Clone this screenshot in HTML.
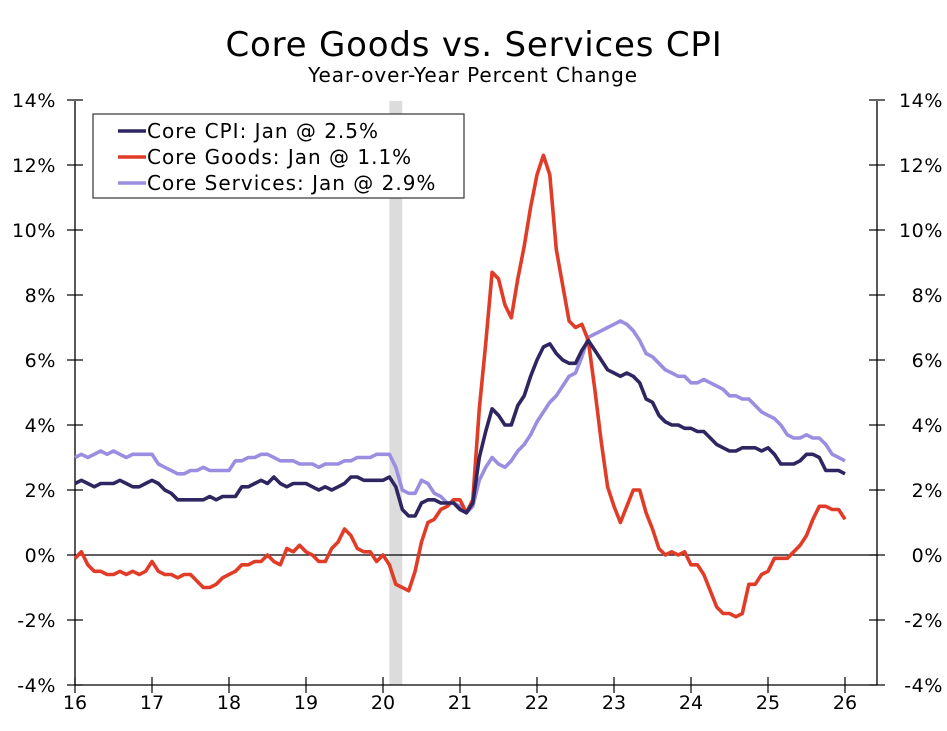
<!DOCTYPE html>
<html><head><meta charset="utf-8"><style>
body{margin:0;background:#fff;font-family:"DejaVu Sans","Liberation Sans",sans-serif}
svg text{font-family:"DejaVu Sans","Liberation Sans",sans-serif;fill:#000}
</style></head><body>
<svg id="chart" width="947" height="727" viewBox="0 0 947 727" xmlns="http://www.w3.org/2000/svg">
<text x="474" y="56" font-size="34" letter-spacing="0.8" text-anchor="middle">Core Goods vs. Services CPI</text>
<text x="473" y="82" font-size="20" letter-spacing="0.9" text-anchor="middle">Year-over-Year Percent Change</text>
<g id="g"></g>
</svg>
<script>
const years=["16","17","18","19","20","21","22","23","24","25","26"];
const yTicks=[-4,-2,0,2,4,6,8,10,12,14];
const coreCPI=[2.2,2.3,2.2,2.1,2.2,2.2,2.2,2.3,2.2,2.1,2.1,2.2,
2.3,2.2,2.0,1.9,1.7,1.7,1.7,1.7,1.7,1.8,1.7,1.8,
1.8,1.8,2.1,2.1,2.2,2.3,2.2,2.4,2.2,2.1,2.2,2.2,
2.2,2.1,2.0,2.1,2.0,2.1,2.2,2.4,2.4,2.3,2.3,2.3,
2.3,2.4,2.1,1.4,1.2,1.2,1.6,1.7,1.7,1.6,1.6,1.6,
1.4,1.3,1.6,3.0,3.8,4.5,4.3,4.0,4.0,4.6,4.9,5.5,
6.0,6.4,6.5,6.2,6.0,5.9,5.9,6.3,6.6,6.3,6.0,5.7,
5.6,5.5,5.6,5.5,5.3,4.8,4.7,4.3,4.1,4.0,4.0,3.9,
3.9,3.8,3.8,3.6,3.4,3.3,3.2,3.2,3.3,3.3,3.3,3.2,
3.3,3.1,2.8,2.8,2.8,2.9,3.1,3.1,3.0,2.6,2.6,2.6,2.5];
const coreGoods=[-0.1,0.1,-0.3,-0.5,-0.5,-0.6,-0.6,-0.5,-0.6,-0.5,-0.6,-0.5,
-0.2,-0.5,-0.6,-0.6,-0.7,-0.6,-0.6,-0.8,-1.0,-1.0,-0.9,-0.7,
-0.6,-0.5,-0.3,-0.3,-0.2,-0.2,0.0,-0.2,-0.3,0.2,0.1,0.3,
0.1,0.0,-0.2,-0.2,0.2,0.4,0.8,0.6,0.2,0.1,0.1,-0.2,
0.0,-0.3,-0.9,-1.0,-1.1,-0.5,0.4,1.0,1.1,1.4,1.5,1.7,
1.7,1.3,1.7,4.5,6.5,8.7,8.5,7.7,7.3,8.5,9.5,10.7,
11.7,12.3,11.7,9.4,8.3,7.2,7.0,7.1,6.6,5.1,3.5,2.1,
1.5,1.0,1.5,2.0,2.0,1.3,0.8,0.2,0.0,0.1,0.0,0.1,
-0.3,-0.3,-0.6,-1.1,-1.6,-1.8,-1.8,-1.9,-1.8,-0.9,-0.9,-0.6,
-0.5,-0.1,-0.1,-0.1,0.1,0.3,0.6,1.1,1.5,1.5,1.4,1.4,1.1];
const coreServices=[3.0,3.1,3.0,3.1,3.2,3.1,3.2,3.1,3.0,3.1,3.1,3.1,
3.1,2.8,2.7,2.6,2.5,2.5,2.6,2.6,2.7,2.6,2.6,2.6,
2.6,2.9,2.9,3.0,3.0,3.1,3.1,3.0,2.9,2.9,2.9,2.8,
2.8,2.8,2.7,2.8,2.8,2.8,2.9,2.9,3.0,3.0,3.0,3.1,
3.1,3.1,2.7,2.0,1.9,1.9,2.3,2.2,1.9,1.8,1.6,1.6,
1.5,1.3,1.5,2.3,2.7,3.0,2.8,2.7,2.9,3.2,3.4,3.7,
4.1,4.4,4.7,4.9,5.2,5.5,5.6,6.1,6.7,6.8,6.9,7.0,
7.1,7.2,7.1,6.9,6.6,6.2,6.1,5.9,5.7,5.6,5.5,5.5,
5.3,5.3,5.4,5.3,5.2,5.1,4.9,4.9,4.8,4.8,4.6,4.4,
4.3,4.2,4.0,3.7,3.6,3.6,3.7,3.6,3.6,3.4,3.1,3.0,2.9];
const recession=[2020+1/12,2020+3/12];

const X0=75,X1=845,L=75,R=877,T=101,B=685;
const xs=t=>X0+(t-2016)*(X1-X0)/10;
const ys=v=>555-v*(B-555)/4;
const NS="http://www.w3.org/2000/svg";
const g=document.getElementById('g');
function mk(tag,a){const e=document.createElementNS(NS,tag);for(const k in a)e.setAttribute(k,a[k]);g.appendChild(e);return e;}
let rr=mk('rect',{x:xs(recession[0]),y:T,width:xs(recession[1])-xs(recession[0]),height:B-T,fill:'#dcdcdc'});


let a1=mk('line',{x1:L,y1:T,x2:L,y2:B,stroke:'#000','stroke-width':1.3});


let a2=mk('line',{x1:R,y1:T,x2:R,y2:B,stroke:'#000','stroke-width':1.3});


let a3=mk('line',{x1:L,y1:B,x2:R,y2:B,stroke:'#000','stroke-width':1.3});


let z=mk('line',{x1:L,y1:ys(0),x2:R,y2:ys(0),stroke:'#000','stroke-width':1.2});


yTicks.forEach(v=>{
 const y=ys(v);
 mk('line',{x1:L-8,y1:y,x2:L+8,y2:y,stroke:'#000','stroke-width':1.2});
 mk('line',{x1:R-8,y1:y,x2:R+8,y2:y,stroke:'#000','stroke-width':1.2});
 let t=mk('text',{x:56,y:y+7,'font-size':19,'letter-spacing':0.6,'text-anchor':'end'});t.textContent=v+'%';
 
 
 let t2=mk('text',{x:943,y:y+7,'font-size':19,'letter-spacing':0.6,'text-anchor':'end'});t2.textContent=v+'%';
 
 
});
years.forEach((yr,i)=>{
 const x=xs(2016+i);
 mk('line',{x1:x,y1:B-8,x2:x,y2:B+8,stroke:'#000','stroke-width':1.2});
 let t=mk('text',{x:x,y:B+24,'font-size':19,'text-anchor':'middle'});t.textContent=yr;
 
 
});
function series(arr,color,name){
 const d=arr.map((v,i)=>(i?'L':'M')+xs(2016+i/12).toFixed(1)+','+ys(v).toFixed(1)).join('');
 const p=mk('path',{d:d,fill:'none',stroke:color,'stroke-width':3.6,'stroke-linejoin':'round'});
 
 
}
series(coreServices,'#9b8ee0','core-services-line');
series(coreGoods,'#e03c28','core-goods-line');
series(coreCPI,'#2e2660','core-cpi-line');
let lb=mk('rect',{x:93,y:114,width:371,height:84,fill:'#fff',stroke:'#333','stroke-width':1.2});


[['Core CPI: Jan @ 2.5%','#2e2660'],['Core Goods: Jan @ 1.1%','#e03c28'],['Core Services: Jan @ 2.9%','#9b8ee0']].forEach((e,i)=>{
 const y=131+i*26;
 let l=mk('line',{x1:118,y1:y,x2:146,y2:y,stroke:e[1],'stroke-width':3.6});
 
 
 let t=mk('text',{x:147,y:y+7,'font-size':20,'letter-spacing':1});t.textContent=e[0];
 
 
});
</script>
</body></html>
